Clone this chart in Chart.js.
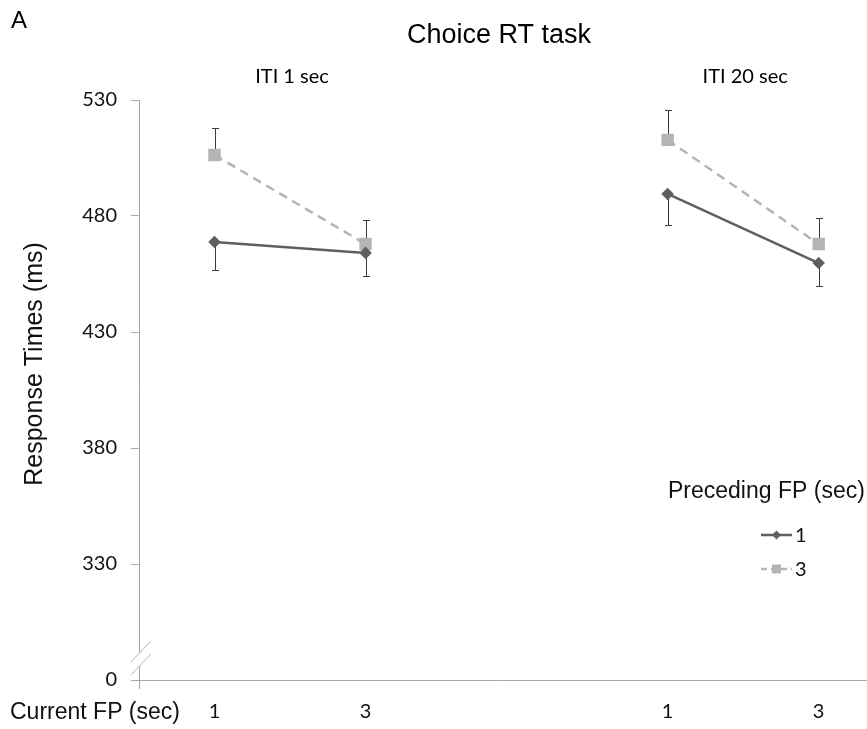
<!DOCTYPE html>
<html>
<head>
<meta charset="utf-8">
<script src="https://cdn.jsdelivr.net/npm/chart.js@4"></script>
<style>
    body { margin: 0; background: #fff; }
    #wrap { width: 867px; height: 729px; }
</style>
</head>
<body>
<div id="wrap"><canvas id="chart" width="867" height="729"></canvas></div>
<script>
// x positions: ITI 1 sec group, empty gap, ITI 20 sec group
const categories = ['1', '3', '', '1', '3'];
const groupLabels = ['ITI 1 sec', 'ITI 20 sec'];
const groupIndex = [[0, 1], [3, 4]];

// mean RT (ms) per preceding FP
const prevFP1 = [468.8, 464.1, null, 489.5, 459.7];
const prevFP3 = [506.3, 467.9, null, 512.8, 467.9];
// error bar sizes (ms) - drawn down for FP 1, up for FP 3
const errFP1 = [12.1, 9.9, null, 13.4, 9.9];
const errFP3 = [11.6, 10.3, null, 12.9, 11.2];

const yTicks = [280, 330, 380, 430, 480, 530];
const yTickText = ['0', '330', '380', '430', '480', '530'];

const axisGray = '#a6a6a6';
const calibriLike = 'Lato, "Open Sans", sans-serif';
const arialLike = '"Liberation Sans", Arial, sans-serif';

// turn an array into {x: index, y: value} points for the linear x scale
function toPoints(arr) {
    return arr.map((v, i) => ({ x: i, y: v }));
}

// draws the one-sided error bars under the markers
const errorBars = {
    id: 'errorBars',
    beforeDatasetsDraw(chart) {
        const ctx = chart.ctx;
        const x = chart.scales.x, y = chart.scales.y;
        ctx.save();
        ctx.strokeStyle = '#3c3c3c';
        ctx.lineWidth = 1;
        chart.data.datasets.forEach(ds => {
            ds.data.forEach((p, i) => {
                if (p.y === null) return;
                const px = Math.round(x.getPixelForValue(p.x)) + 0.5;
                const py = y.getPixelForValue(p.y);
                const pe = Math.round(y.getPixelForValue(p.y + ds.errDir * ds.err[i])) + 0.5;
                ctx.beginPath();
                ctx.moveTo(px, py);
                ctx.lineTo(px, pe);
                ctx.moveTo(px - 3.5, pe);
                ctx.lineTo(px + 3.5, pe);
                ctx.stroke();
            });
        });
        ctx.restore();
    }
};

// titles, group labels, axis break, legend
const extras = {
    id: 'extras',
    afterDraw(chart) {
        const ctx = chart.ctx;
        const x = chart.scales.x, y = chart.scales.y;
        const area = chart.chartArea;
        ctx.save();
        ctx.fillStyle = '#000';
        ctx.textBaseline = 'middle';

        ctx.font = '24px ' + arialLike;
        ctx.textAlign = 'left';
        ctx.fillText('A', 11, 21);

        ctx.font = '27px ' + arialLike;
        ctx.textAlign = 'center';
        ctx.fillText('Choice RT task', 499, 36);

        ctx.font = '20px ' + calibriLike;
        groupLabels.forEach((lab, g) => {
            const cx = (x.getPixelForValue(groupIndex[g][0]) + x.getPixelForValue(groupIndex[g][1])) / 2;
            ctx.fillText(lab, cx + 2, 77);
        });

        // y title (not centred on the axis in the original)
        ctx.save();
        ctx.translate(35, 364);
        ctx.rotate(-Math.PI / 2);
        ctx.font = '25px ' + arialLike;
        ctx.fillStyle = '#111';
        ctx.fillText('Response Times (ms)', 0, 0);
        ctx.restore();

        ctx.font = '23px ' + arialLike;
        ctx.textAlign = 'left';
        ctx.fillStyle = '#111';
        ctx.fillText('Current FP (sec)', 10, 713);

        // axis break
        const by = y.getPixelForValue(289.5);
        const bx = area.left;
        ctx.fillStyle = '#fff';
        ctx.beginPath();
        ctx.moveTo(bx - 8, by + 4);
        ctx.lineTo(bx + 12, by - 17);
        ctx.lineTo(bx + 12, by - 4);
        ctx.lineTo(bx - 8, by + 17);
        ctx.closePath();
        ctx.fill();
        ctx.strokeStyle = '#b4b4b4';
        ctx.lineWidth = 1;
        ctx.beginPath();
        ctx.moveTo(bx - 8, by + 4);
        ctx.lineTo(bx + 12, by - 17);
        ctx.moveTo(bx - 8, by + 17);
        ctx.lineTo(bx + 12, by - 4);
        ctx.stroke();

        // legend
        ctx.fillStyle = '#111';
        ctx.font = '23px ' + arialLike;
        ctx.fillText('Preceding FP (sec)', 668, 492);
        const rows = [535, 569];
        chart.data.datasets.forEach((ds, i) => {
            const ly = rows[i];
            ctx.strokeStyle = ds.borderColor;
            ctx.lineWidth = 2.5;
            ctx.setLineDash(ds.borderDash ? [6, 4] : []);
            ctx.beginPath();
            ctx.moveTo(761, ly);
            ctx.lineTo(792, ly);
            ctx.stroke();
            ctx.setLineDash([]);
            ctx.fillStyle = ds.pointBackgroundColor;
            if (ds.pointStyle === 'rect') {
                ctx.fillRect(772, ly - 4.5, 9, 9);
            } else {
                ctx.beginPath();
                ctx.moveTo(776.5, ly - 4.5);
                ctx.lineTo(781, ly);
                ctx.lineTo(776.5, ly + 4.5);
                ctx.lineTo(772, ly);
                ctx.closePath();
                ctx.fill();
            }
            ctx.fillStyle = '#111';
            ctx.font = '20px ' + calibriLike;
            ctx.fillText(ds.label, 795, ly + 1);
        });
        ctx.restore();
    }
};

new Chart(document.getElementById('chart'), {
    type: 'line',
    data: {
        datasets: [{
            label: '1',
            data: toPoints(prevFP1),
            err: errFP1,
            errDir: -1,
            borderColor: '#5f5f5f',
            backgroundColor: '#5f5f5f',
            pointBackgroundColor: '#5f5f5f',
            pointBorderColor: '#5f5f5f',
            borderWidth: 2.5,
            pointStyle: 'rectRot',
            pointRadius: 4.5,
            spanGaps: false
        }, {
            label: '3',
            data: toPoints(prevFP3),
            err: errFP3,
            errDir: 1,
            borderColor: '#b4b4b4',
            backgroundColor: '#b4b4b4',
            pointBackgroundColor: '#b4b4b4',
            pointBorderColor: '#b4b4b4',
            borderWidth: 2.5,
            borderDash: [9, 6],
            pointStyle: 'rect',
            pointRadius: 7,
            spanGaps: false
        }]
    },
    options: {
        responsive: false,
        animation: false,
        layout: { autoPadding: false, padding: { top: 100, right: 0, left: 0, bottom: 0 } },
        plugins: {
            legend: { display: false },
            tooltip: { enabled: false },
            title: { display: false }
        },
        scales: {
            x: {
                type: 'linear',
                min: -0.5,
                max: 4.32,
                afterBuildTicks: scale => {
                    scale.ticks = [-0.5, 0, 1, 3, 4].map(v => ({ value: v }));
                },
                afterFit: scale => {
                    scale.height = 49;
                    scale.paddingLeft = 0;
                    scale.paddingRight = 0;
                },
                grid: {
                    drawOnChartArea: false,
                    drawTicks: true,
                    tickLength: 9,
                    color: c => (c.tick && c.tick.value === -0.5) ? axisGray : 'rgba(0,0,0,0)'
                },
                border: { color: axisGray, width: 1 },
                ticks: {
                    autoSkip: false,
                    maxRotation: 0,
                    padding: 11,
                    color: '#111',
                    font: { family: calibriLike, size: 20 },
                    callback: v => (Number.isInteger(v) ? categories[v] : '')
                }
            },
            y: {
                min: 280,
                max: 530,
                afterBuildTicks: scale => {
                    scale.ticks = yTicks.map(v => ({ value: v }));
                },
                afterFit: scale => {
                    scale.width = 139;
                    scale.paddingTop = 0;
                    scale.paddingBottom = 0;
                },
                grid: {
                    drawOnChartArea: false,
                    drawTicks: true,
                    tickLength: 8,
                    color: axisGray
                },
                border: { color: axisGray, width: 1 },
                ticks: {
                    padding: 14,
                    color: '#111',
                    font: { family: calibriLike, size: 20 },
                    callback: v => yTickText[yTicks.indexOf(v)]
                }
            }
        }
    },
    plugins: [errorBars, extras]
});
</script>
</body>
</html>
